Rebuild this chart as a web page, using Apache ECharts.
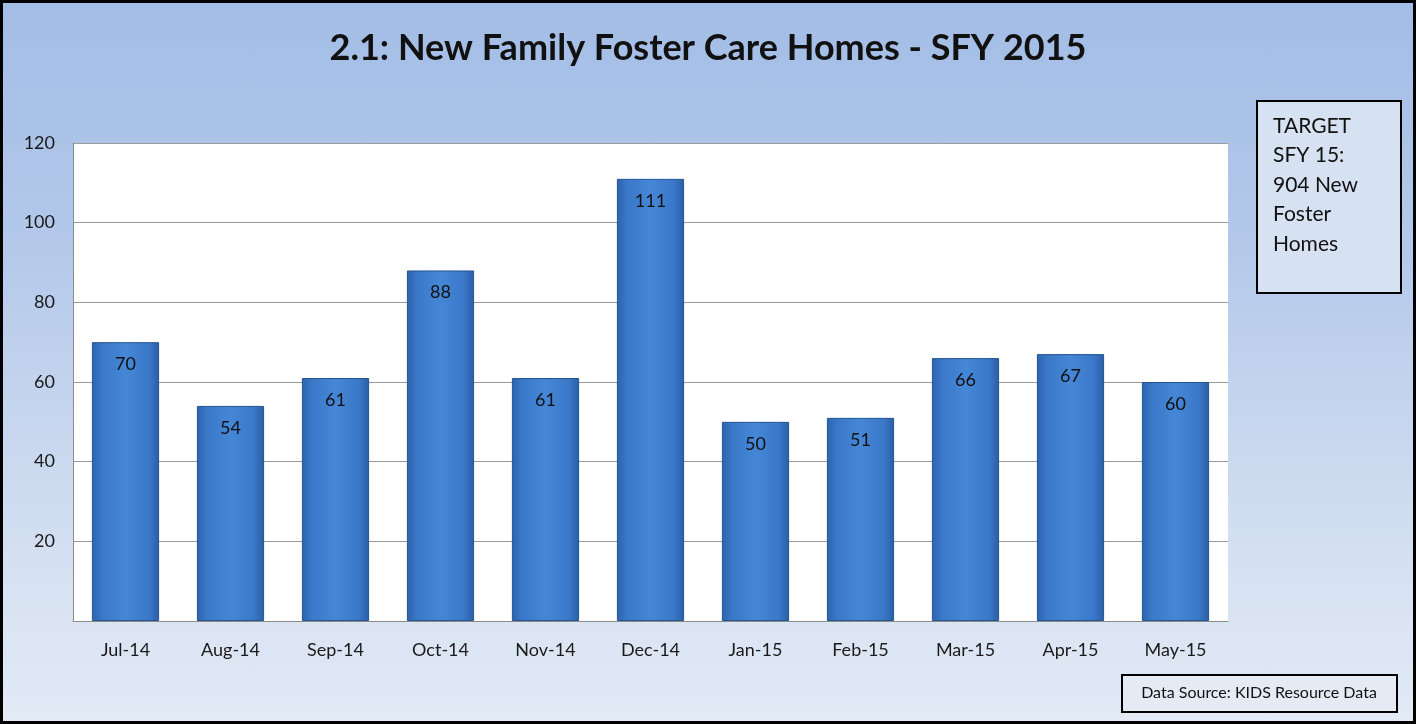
<!DOCTYPE html>
<html><head><meta charset="utf-8">
<script src="https://cdn.jsdelivr.net/npm/echarts@6/dist/echarts.min.js"></script>
<style>
html,body{margin:0;padding:0;}
#c{width:1416px;height:724px;box-sizing:border-box;border:3px solid #000;
background:linear-gradient(180deg,#a3bde6 0%,#b4c9ea 35%,#d3dff1 75%,#e2eaf5 100%);}
</style></head><body>
<div id="c"></div>
<script>
const categories = ['Jul-14','Aug-14','Sep-14','Oct-14','Nov-14','Dec-14','Jan-15','Feb-15','Mar-15','Apr-15','May-15'];
const values = [70,54,61,88,61,111,50,51,66,67,60];
const yTicks = [0,20,40,60,80,100,120];
const titleText = '2.1: New Family Foster Care Homes - SFY 2015';
const targetLines = ['TARGET','SFY 15:','904 New','Foster','Homes'];
const sourceText = 'Data Source: KIDS Resource Data';

const chart = echarts.init(document.getElementById('c'), null, {renderer:'canvas'});
const FONT = 'Lato, "Open Sans", sans-serif';
chart.setOption({
  backgroundColor:'transparent',
  title:{text:titleText,left:'center',top:22,
    textStyle:{fontFamily:FONT,fontSize:36,fontWeight:'bold',color:'#111'}},
  grid:{left:70,right:185,top:140,bottom:100,show:true,backgroundColor:'#ffffff',borderWidth:0},
  xAxis:{type:'category',data:categories,
    axisLine:{lineStyle:{color:'#8c8c8c'}},axisTick:{show:false},
    axisLabel:{fontFamily:FONT,fontSize:18,color:'#1a1a1a',margin:20}},
  yAxis:{type:'value',min:yTicks[0],max:yTicks[yTicks.length-1],interval:20,
    axisLine:{show:true,lineStyle:{color:'#8c8c8c'}},axisTick:{show:false},
    splitLine:{lineStyle:{color:'#9a9a9a',width:1}},
    axisLabel:{fontFamily:FONT,fontSize:18,color:'#1a1a1a',margin:18,
      formatter:v=>v===0?'':String(v)}},
  series:[{type:'bar',data:values,barWidth:'64%',
    itemStyle:{
      color:new echarts.graphic.LinearGradient(0,0,1,0,[
        {offset:0,color:'#2c63ad'},{offset:0.15,color:'#3a78c8'},
        {offset:0.5,color:'#4587d6'},{offset:0.85,color:'#3a78c8'},{offset:1,color:'#2a5ea6'}]),
      borderColor:'#24558f',borderWidth:1},
    label:{show:true,position:'insideTop',distance:13,
      fontFamily:FONT,fontSize:18,color:'#111'}}],
  graphic:[
    {type:'rect',left:1253,top:97,shape:{width:144,height:192},
      style:{fill:'#d6e1f1',stroke:'#000',lineWidth:2}},
    {type:'text',left:1270,top:108,
      style:{text:targetLines.join('\n'),fontFamily:FONT,fontSize:21,lineHeight:29.5,fill:'#111'}},
    {type:'rect',left:1118,top:671,shape:{width:275,height:37},
      style:{fill:'#e4ebf5',stroke:'#000',lineWidth:2}},
    {type:'text',x:1256,y:690,
      style:{text:sourceText,fontFamily:FONT,fontSize:16,fill:'#111',align:'center',verticalAlign:'middle'}}
  ]
});
</script></body></html>
